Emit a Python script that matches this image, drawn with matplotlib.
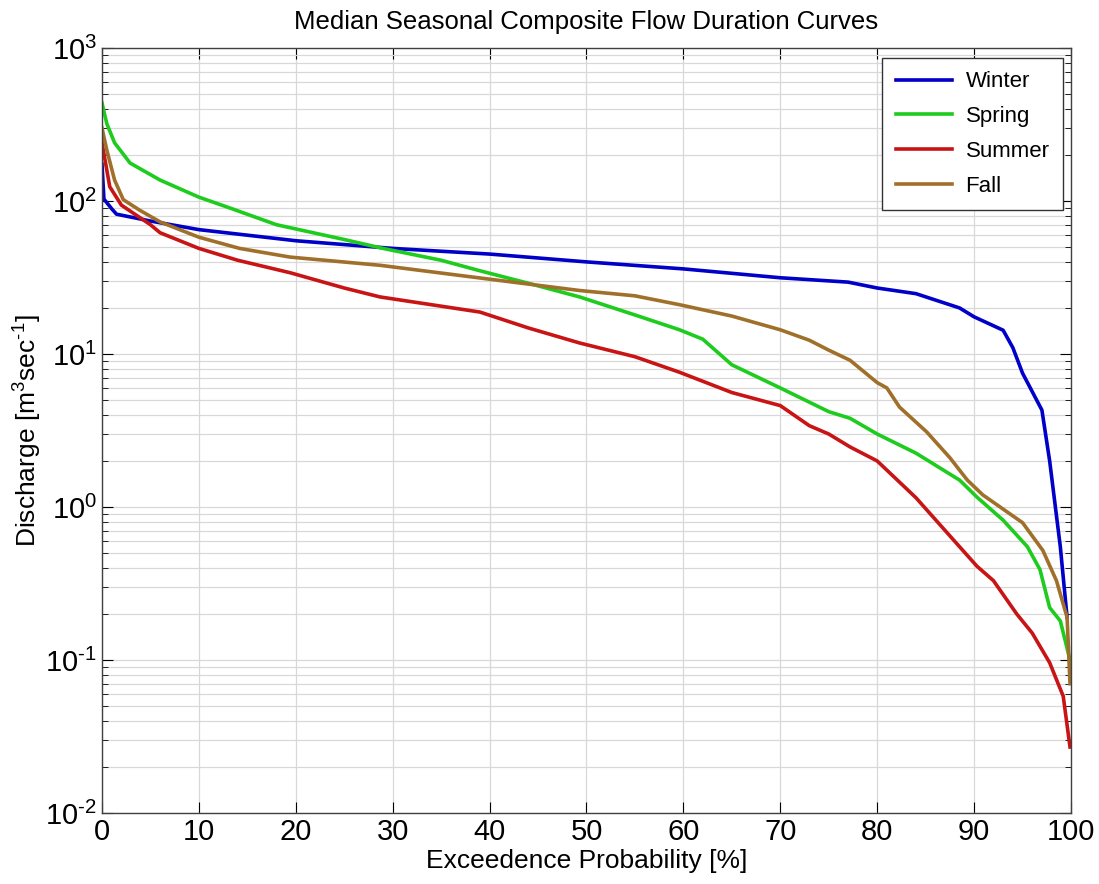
import numpy as np
import matplotlib
matplotlib.use('Agg')
import matplotlib.pyplot as plt
from matplotlib.ticker import LogLocator, MultipleLocator, FuncFormatter

plt.rcParams['font.family'] = ['Liberation Sans', 'DejaVu Sans']
plt.rcParams['mathtext.fontset'] = 'custom'
plt.rcParams['mathtext.rm'] = 'Liberation Sans'

# exceedence probability [%] and discharge
winter_p = [0, 0.2, 1, 1.5, 5, 10, 20, 30, 40, 50, 60, 70, 77, 80, 84, 88.5, 90, 93,
            94, 95, 97, 97.8, 98.9, 99.6]
winter_q = [174, 103, 89, 82, 74, 65, 55, 49, 45, 40, 36, 31.5, 29.5, 27, 24.8, 20, 17.5, 14.3,
            11, 7.5, 4.3, 2.0, 0.55, 0.19]

spring_p = [0, 0.5, 1.3, 2.9, 6, 10, 13.2, 18, 25, 29, 35, 39, 44, 49.3, 55, 59.6, 62,
            65, 70, 75, 77.2, 80, 84, 88.5, 90.3, 93, 95.5, 96.8, 97.8, 98.9, 99.9]
spring_q = [437, 320, 240, 177, 137, 106, 90, 70, 56, 49, 41, 35, 29, 23.6, 18, 14.4, 12.5,
            8.5, 6.0, 4.2, 3.8, 3.0, 2.25, 1.5, 1.16, 0.82, 0.55, 0.39, 0.22, 0.18, 0.1]

summer_p = [0, 0.8, 2, 5, 6, 10, 14, 19.4, 25, 28.7, 34, 39, 44, 49.3, 55, 59.6, 65, 70,
            73, 75, 77.2, 80, 84, 88.5, 90.3, 92, 94.4, 96, 97.8, 99.2, 99.9]
summer_q = [240, 124, 94, 70, 62, 49, 41, 34, 27, 23.6, 21, 18.8, 14.8, 11.8, 9.6, 7.6, 5.6, 4.6,
            3.4, 3.0, 2.47, 2.0, 1.15, 0.55, 0.41, 0.33, 0.20, 0.15, 0.096, 0.058, 0.027]

fall_p = [0, 0.5, 1.3, 2.2, 3.9, 6, 10, 14.2, 19.4, 28.7, 39, 49.3, 55, 59.6, 65, 70, 73, 75,
          77.2, 80, 81, 82.3, 85.1, 87.5, 89.3, 90.9, 95, 97.1, 98.5, 99.6, 99.9]
fall_q = [300, 215, 137, 102, 87, 73, 58, 49, 43, 38, 31.4, 26, 24, 21, 17.7, 14.4, 12.3, 10.6,
          9.1, 6.5, 6.0, 4.5, 3.1, 2.1, 1.5, 1.2, 0.79, 0.52, 0.33, 0.19, 0.07]

labels = ['Winter', 'Spring', 'Summer', 'Fall']
colors = ['#0000C8', '#1ECC1E', '#C81414', '#A0702A']

fig = plt.figure(figsize=(10.99, 8.84), dpi=100)
ax = fig.add_axes([0.0928, 0.0803, 0.8817, 0.8654])

series = [(winter_p, winter_q), (spring_p, spring_q), (summer_p, summer_q), (fall_p, fall_q)]
for (p, q), lab, c in zip(series, labels, colors):
    ax.plot(p, q, color=c, lw=2.6, label=lab)

ax.set_yscale('log')
ax.set_xlim(0, 100)
ax.set_ylim(1e-2, 1e3)
ax.xaxis.set_major_locator(MultipleLocator(10))
ax.yaxis.set_major_locator(LogLocator(base=10, numticks=10))
ax.yaxis.set_minor_locator(LogLocator(base=10, subs=np.arange(2, 10), numticks=20))


def dec_fmt(v, pos):
    # plain hyphen like the matlab export, not a math minus
    e = int(round(np.log10(v)))
    s = str(e).replace('-', '\u2010')
    return '10$^{%s}$' % s


ax.yaxis.set_major_formatter(FuncFormatter(dec_fmt))

# matlab-style grid and inward ticks on every side
ax.grid(True, which='major', color='#D8D8D8', lw=0.9)
ax.grid(True, which='minor', axis='y', color='#D8D8D8', lw=0.9)
ax.tick_params(which='both', direction='in', top=True, right=True, labelsize=21)
ax.tick_params(which='major', length=8)
ax.tick_params(which='minor', length=4)
for s in ax.spines.values():
    s.set_color('#404040')
    s.set_linewidth(1.0)

ax.set_title('Median Seasonal Composite Flow Duration Curves', fontsize=18.5, pad=14)
ax.set_xlabel('Exceedence Probability [%]', fontsize=19, labelpad=2)
ax.set_ylabel('Discharge [m$^3$sec$^{\u20101}$]', fontsize=19)
ax.yaxis.set_label_coords(-0.061, 0.5)

leg = ax.legend(loc='upper right', fontsize=16, fancybox=False, framealpha=1,
                edgecolor='#333333', handlelength=2.55, borderpad=0.6, labelspacing=0.62,
                handletextpad=0.6, borderaxespad=0, bbox_to_anchor=(0.9917, 0.987))
leg.get_frame().set_linewidth(1.0)

fig.savefig('out.png', dpi=100)
